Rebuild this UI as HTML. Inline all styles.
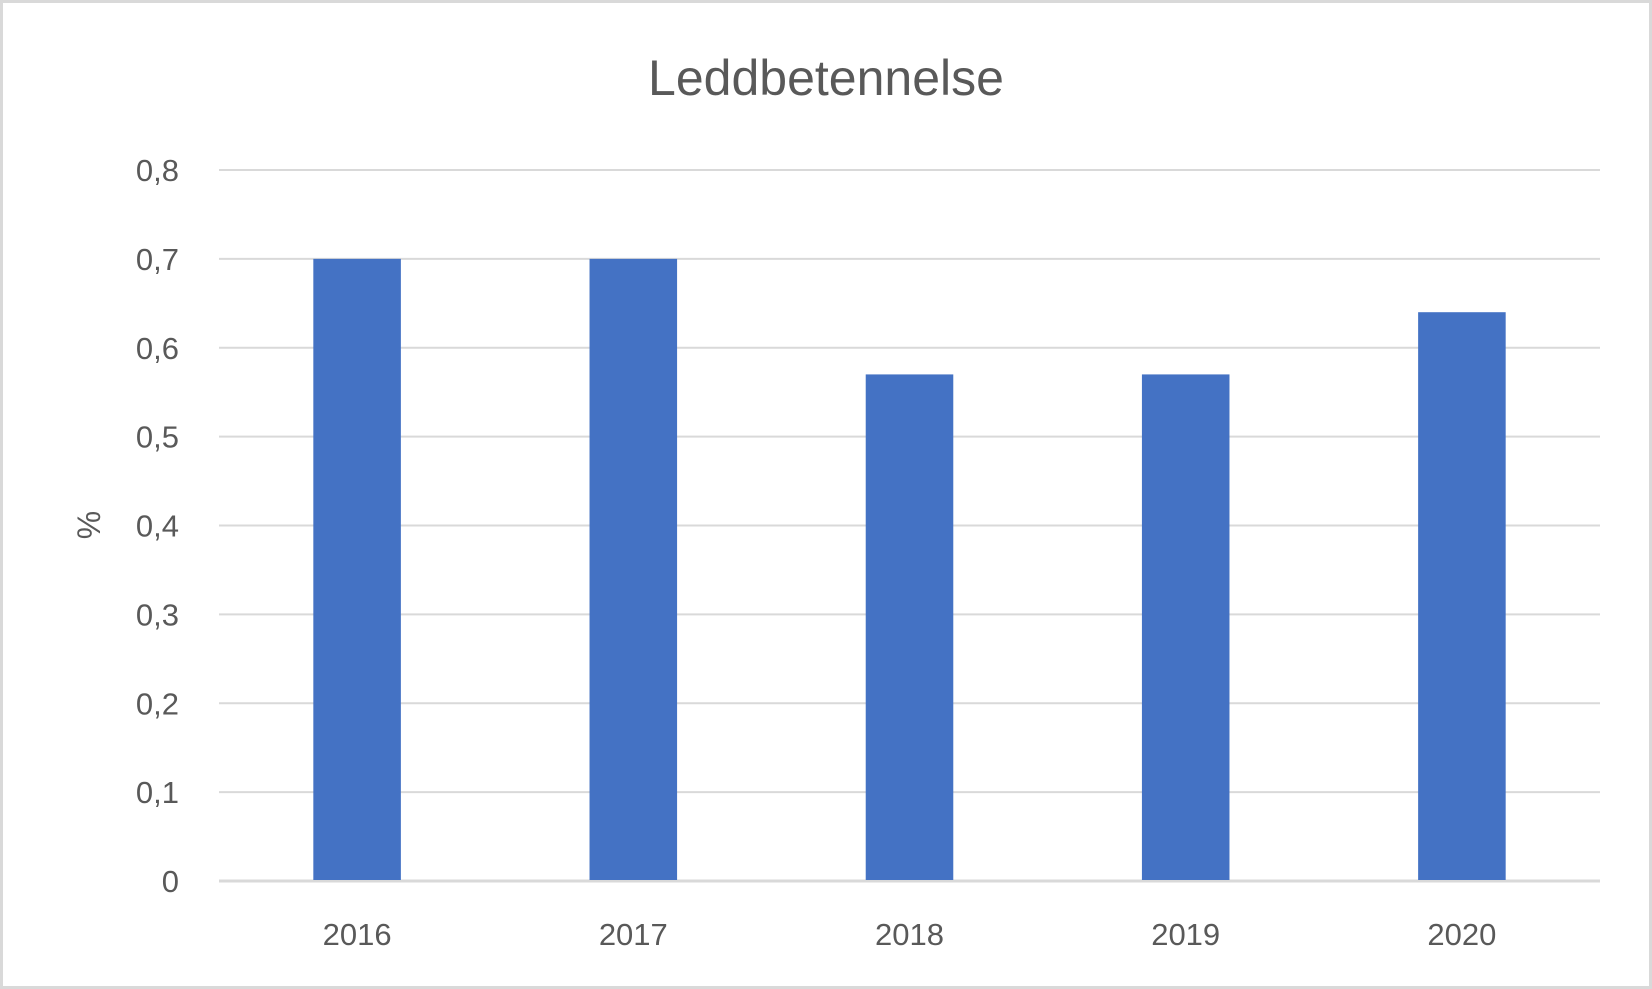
<!DOCTYPE html>
<html><head><meta charset="utf-8"><style>
html,body{margin:0;padding:0;background:#fff}
svg{display:block}
text{font-family:"Liberation Sans",sans-serif;fill:#595959}
</style></head><body>
<svg id="chart" width="1652" height="989" viewBox="0 0 1652 989" xmlns="http://www.w3.org/2000/svg">
<rect x="1.5" y="1.5" width="1649" height="986" fill="#fff" stroke="#d9d9d9" stroke-width="3"/>
<text x="826" y="95" font-size="50" text-anchor="middle">Leddbetennelse</text>
<text transform="translate(100,525) rotate(-90)" font-size="32" text-anchor="middle">%</text>
<g id="grid"></g>
<g id="yticks"></g>
<g id="bars"></g>
<g id="xticks"></g>
</svg>
<script>
const categories = ["2016","2017","2018","2019","2020"];
const values = [0.7, 0.7, 0.57, 0.57, 0.64];
const yTicks = [0,0.1,0.2,0.3,0.4,0.5,0.6,0.7,0.8];
const yTickLabels = ["0","0,1","0,2","0,3","0,4","0,5","0,6","0,7","0,8"];

const NS="http://www.w3.org/2000/svg";
const L=219,R=1600,Y0=881,Ymax=170,vmax=0.8;
const y=v=>Y0-(v/vmax)*(Y0-Ymax);
const bw=(R-L)/categories.length;
const xc=i=>L+bw*(i+0.5);
const grid=document.getElementById('grid'),yt=document.getElementById('yticks'),bars=document.getElementById('bars'),xt=document.getElementById('xticks');
yTicks.forEach((t,i)=>{
  const ln=document.createElementNS(NS,'line');
  
  
  ln.setAttribute('x1',L);ln.setAttribute('x2',R);ln.setAttribute('y1',y(t));ln.setAttribute('y2',y(t));
  ln.setAttribute('stroke','#d9d9d9');ln.setAttribute('stroke-width',i===0?3:2);
  grid.appendChild(ln);
  const tx=document.createElementNS(NS,'text');
  
  
  tx.setAttribute('x',179);tx.setAttribute('y',y(t)+11);tx.setAttribute('font-size','31');tx.setAttribute('text-anchor','end');
  tx.textContent=yTickLabels[i];
  yt.appendChild(tx);
});
values.forEach((v,i)=>{
  const w=bw*0.317;
  const r=document.createElementNS(NS,'rect');
  
  
  r.setAttribute('x',xc(i)-w/2);r.setAttribute('width',w);r.setAttribute('y',y(v));r.setAttribute('height',Y0-y(v)-1);
  r.setAttribute('fill','#4472c4');
  bars.appendChild(r);
  const tx=document.createElementNS(NS,'text');
  
  
  tx.setAttribute('x',xc(i));tx.setAttribute('y',945);tx.setAttribute('font-size','31');tx.setAttribute('text-anchor','middle');
  tx.textContent=categories[i];
  xt.appendChild(tx);
});
</script>
</body></html>
